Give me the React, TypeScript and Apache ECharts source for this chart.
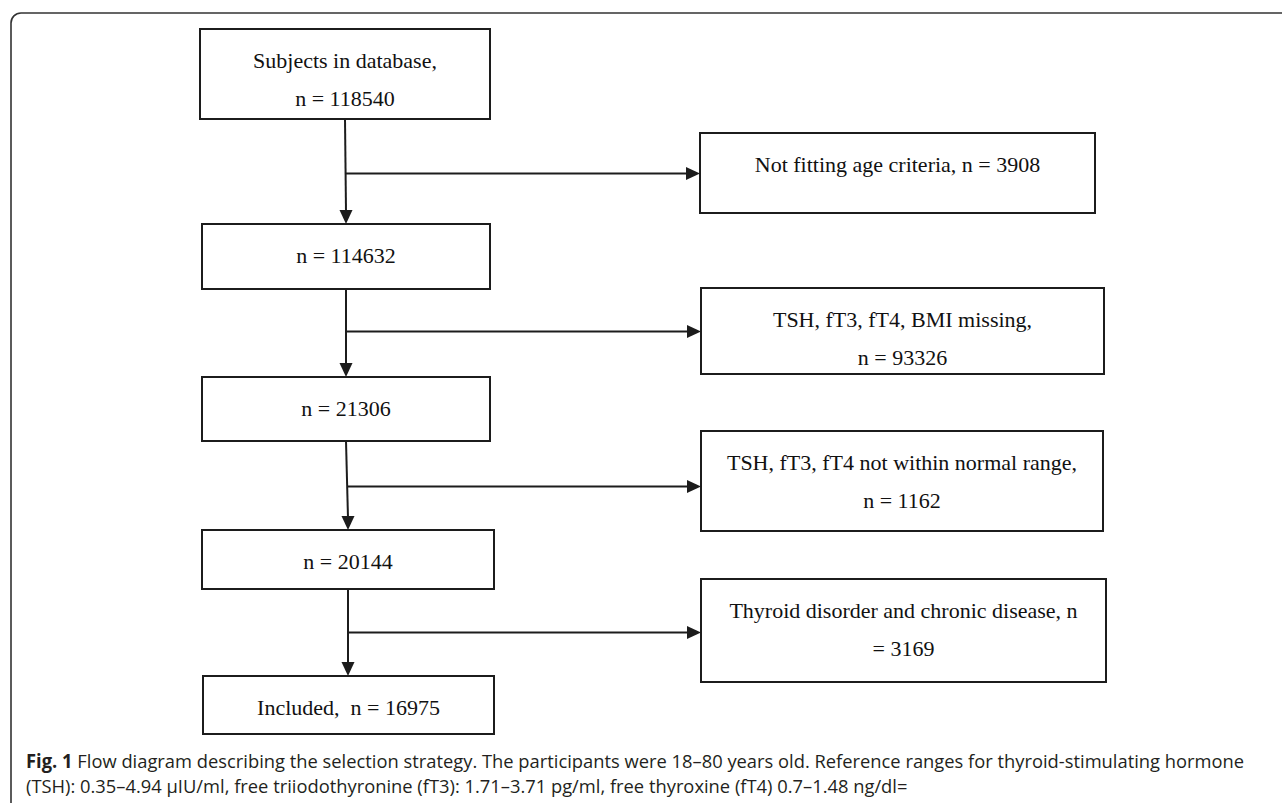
import React, { useEffect, useRef } from "react";
import * as echarts from "echarts";

// ---- Data (counts and texts of the flow diagram) ----
const mainPrefixes = ["Subjects in database,\nn = ", "n = ", "n = ", "n = ", "Included,  n = "];
const mainCounts = [118540, 114632, 21306, 20144, 16975];
const exclusionPrefixes = [
  "Not fitting age criteria, n = ",
  "TSH, fT3, fT4, BMI missing,\nn = ",
  "TSH, fT3, fT4 not within normal range,\nn = ",
  "Thyroid disorder and chronic disease, n\n= ",
];
const exclusionCounts = [3908, 93326, 1162, 3169];
const captionBold = "Fig. 1";
const captionLine1 =
  " Flow diagram describing the selection strategy. The participants were 18–80 years old. Reference ranges for thyroid-stimulating hormone";
const captionLine2 =
  "(TSH): 0.35–4.94 μIU/ml, free triiodothyronine (fT3): 1.71–3.71 pg/ml, free thyroxine (fT4) 0.7–1.48 ng/dl=";

// ---- Layout (positions / sizes) ----
const mainLayout = [
  { x: 200, y: 29, w: 290, h: 90 },
  { x: 202, y: 224, w: 288, h: 65 },
  { x: 202, y: 377, w: 288, h: 64 },
  { x: 202, y: 530, w: 292, h: 59 },
  { x: 203, y: 676, w: 291, h: 58 },
];
const exclusionLayout = [
  { x: 700, y: 133, w: 395, h: 80 },
  { x: 701, y: 288, w: 403, h: 86 },
  { x: 701, y: 431, w: 402, h: 100 },
  { x: 701, y: 579, w: 405, h: 103 },
];
// vertical trunk x at top / bottom of each segment
const trunkX = [
  [345, 346],
  [346, 346],
  [346, 348],
  [348, 348],
];
const branchY = [173.5, 331.5, 486.5, 632.5];
const captionX = 26;
const captionY = [760, 785];
const captionWidth = 1219;
const captionSize = 19;

const INK = "#1c1c1c";
const SERIF = "'Liberation Serif', 'Times New Roman', serif";
const SANS = "'Open Sans', 'Noto Sans', sans-serif";

function measure(text: string, font: string) {
  const ctx = document.createElement("canvas").getContext("2d")!;
  ctx.font = font;
  return ctx.measureText(text).width;
}

function boxElements(layout: { x: number; y: number; w: number; h: number }, text: string) {
  const els: any[] = [
    {
      type: "rect",
      shape: { x: layout.x, y: layout.y, width: layout.w, height: layout.h },
      style: { fill: "#fff", stroke: INK, lineWidth: 2 },
    },
  ];
  const lines = text.split("\n");
  lines.forEach((ln, i) => {
    els.push({
      type: "text",
      style: {
        text: ln,
        x: layout.x + layout.w / 2,
        y: layout.y + 31 + i * 38,
        textAlign: "center",
        textVerticalAlign: "middle",
        fontFamily: SERIF,
        fontSize: 22,
        fill: "#111",
      },
    });
  });
  return els;
}

function buildGraphics() {
  const els: any[] = [];
  // outer frame
  els.push({
    type: "rect",
    shape: { x: 11, y: 13, width: 1320, height: 830, r: 10 },
    style: { fill: "none", stroke: "#333", lineWidth: 1.6 },
  });
  mainLayout.forEach((b, i) => {
    els.push(...boxElements(b, mainPrefixes[i] + mainCounts[i]));
  });
  exclusionLayout.forEach((b, i) => {
    els.push(...boxElements(b, exclusionPrefixes[i] + exclusionCounts[i]));
  });
  // arrows
  for (let i = 0; i < 4; i++) {
    const top = mainLayout[i].y + mainLayout[i].h;
    const tipY = mainLayout[i + 1].y;
    const [x0, x1] = trunkX[i];
    els.push({
      type: "line",
      shape: { x1: x0, y1: top, x2: x1, y2: tipY - 12 },
      style: { stroke: INK, lineWidth: 2 },
    });
    els.push({
      type: "polygon",
      shape: { points: [[x1 - 6.5, tipY - 14], [x1 + 6.5, tipY - 14], [x1, tipY]] },
      style: { fill: INK },
    });
    const by = branchY[i];
    const bx = x0 + ((x1 - x0) * (by - top)) / (tipY - top);
    const tipX = exclusionLayout[i].x;
    els.push({
      type: "line",
      shape: { x1: bx, y1: by, x2: tipX - 12, y2: by },
      style: { stroke: INK, lineWidth: 2 },
    });
    els.push({
      type: "polygon",
      shape: { points: [[tipX - 14, by - 6.5], [tipX - 14, by + 6.5], [tipX, by]] },
      style: { fill: INK },
    });
  }
  // caption (condensed to the reference width)
  const natural =
    measure(captionBold, `bold ${captionSize}px 'Open Sans'`) +
    measure(captionLine1, `${captionSize}px 'Open Sans'`);
  const sx = natural > 0 ? captionWidth / natural : 1;
  els.push({
    type: "group",
    x: captionX,
    y: 0,
    scaleX: sx,
    children: [
      {
        type: "text",
        style: {
          text: "{b|" + captionBold + "}" + captionLine1,
          x: 0,
          y: captionY[0],
          textVerticalAlign: "middle",
          fontFamily: SANS,
          fontSize: captionSize,
          fill: "#231f20",
          rich: { b: { fontWeight: "bold", fontFamily: SANS, fontSize: captionSize, fill: "#231f20" } },
        },
      },
      {
        type: "text",
        style: {
          text: captionLine2,
          x: 0,
          y: captionY[1],
          textVerticalAlign: "middle",
          fontFamily: SANS,
          fontSize: captionSize,
          fill: "#231f20",
        },
      },
    ],
  });
  return els;
}

export default function App() {
  const ref = useRef<HTMLDivElement>(null);
  useEffect(() => {
    document.body.style.margin = "0";
    const chart = echarts.init(ref.current!, null, { renderer: "svg" });
    chart.setOption({
      animation: false,
      backgroundColor: "#fff",
      graphic: { elements: buildGraphics() },
    });
    return () => chart.dispose();
  }, []);
  return <div ref={ref} style={{ position: "fixed", left: 0, top: 0, width: 1282, height: 803 }} />;
}
